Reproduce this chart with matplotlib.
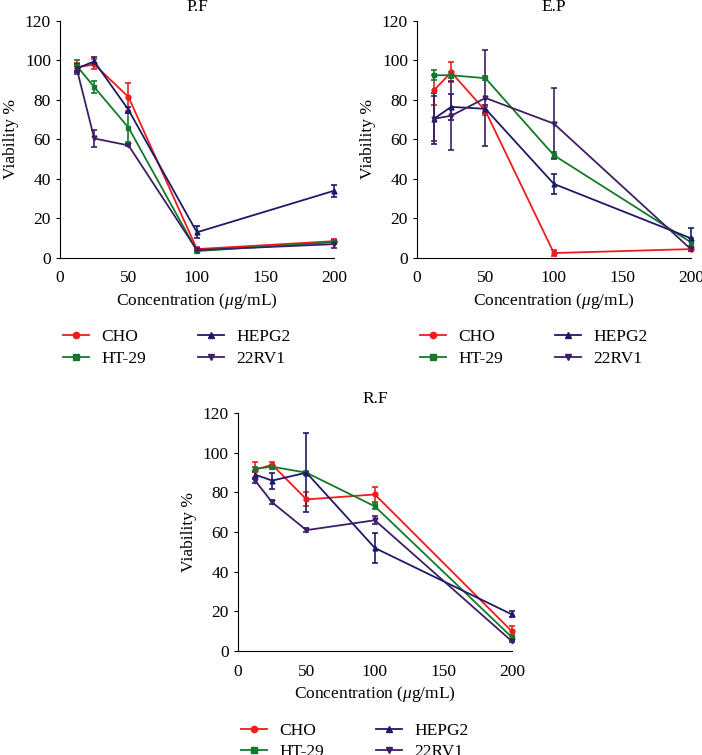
import matplotlib
matplotlib.use('Agg')
import matplotlib.pyplot as plt
from matplotlib.lines import Line2D

plt.rcParams['font.family'] = ['Liberation Serif', 'DejaVu Serif']
plt.rcParams['mathtext.fontset'] = 'custom'
plt.rcParams['mathtext.it'] = 'Liberation Serif:italic'
plt.rcParams['mathtext.rm'] = 'Liberation Serif'

# concentrations (ug/mL)
conc = [12.5, 25, 50, 100, 200]
cells = ['CHO', 'HT-29', 'HEPG2', '22RV1']
colors = ['#ee1c1c', '#137a2a', '#1c1a6a', '#3f1f63']
markers = ['o', 's', '^', 'v']

# P.F
pf_mean = {
    'CHO':   [96.5, 98, 81.5, 4.5, 8.5],
    'HT-29': [97, 86.5, 66, 3.5, 8],
    'HEPG2': [96, 99.5, 75, 13, 34],
    '22RV1': [95, 60.5, 57, 4, 7],
}
pf_err = {
    'CHO':   [2, 2.5, 7, 1, 1],
    'HT-29': [3, 3, 7.5, 1, 1],
    'HEPG2': [2, 2, 1.5, 3, 3],
    '22RV1': [2, 4.5, 0.5, 0.5, 2],
}
# E.P
ep_mean = {
    'CHO':   [85, 94, 74.5, 2.5, 4.5],
    'HT-29': [92.5, 92.5, 91, 52, 8],
    'HEPG2': [70.5, 76.5, 75.5, 37.5, 10],
    '22RV1': [70.5, 72, 81, 68, 4.5],
}
ep_err = {
    'CHO':   [7.5, 5, 2, 1.5, 1],
    'HT-29': [2.5, 1.5, 1, 1.5, 2],
    'HEPG2': [13, 6.5, 2, 5, 5],
    '22RV1': [11.5, 17.5, 24.5, 18, 1],
}
# R.F
rf_mean = {
    'CHO':   [91.5, 94, 76.5, 79, 10],
    'HT-29': [92, 93, 90, 73, 7],
    'HEPG2': [89, 86, 90, 52, 18.5],
    '22RV1': [86, 75, 61, 66, 5],
}
rf_err = {
    'CHO':   [4, 1.5, 3.5, 4, 2.5],
    'HT-29': [1, 1, 1, 1.5, 1],
    'HEPG2': [1.5, 4, 20, 7.5, 1.5],
    '22RV1': [1, 1, 1, 2, 0.5],
}

xticks = [0, 50, 100, 150, 200]
yticks = [0, 20, 40, 60, 80, 100, 120]
fs = 12.5


def draw_panel(ax, title, mean, err):
    handles = []
    for c, col, mk in zip(cells, colors, markers):
        ax.errorbar(conc, mean[c], yerr=err[c], color=col, marker=mk,
                    markersize=3.5, linewidth=1.3, elinewidth=1.2,
                    capsize=2.2, capthick=1.2, clip_on=False)
        handles.append(Line2D([], [], color=col, marker=mk, markersize=4.5,
                              linewidth=1.3, label=c))
    ax.set_xlim(0, 200)
    ax.set_ylim(0, 120)
    ax.set_xticks(xticks)
    ax.set_yticks(yticks)
    ax.spines['top'].set_visible(False)
    ax.spines['right'].set_visible(False)
    ax.tick_params(axis='x', length=0, labelsize=fs, pad=9)
    ax.tick_params(axis='y', length=3, labelsize=fs)
    ax.set_title(title, fontsize=fs, pad=7)
    ax.set_ylabel('Viability %', fontsize=fs, labelpad=4)
    ax.set_xlabel('Concentration ($\\mu$g/mL)', fontsize=fs, labelpad=3)
    ax.legend(handles=handles, loc='upper left', bbox_to_anchor=(-0.045, -0.235),
              ncol=2, frameon=False, fontsize=fs, handlelength=1.5,
              columnspacing=3.0, labelspacing=0.3, handletextpad=0.7)


fig = plt.figure(figsize=(7.02, 7.55), dpi=100)
ax1 = fig.add_axes([0.0855, 0.6583, 0.390, 0.314])
ax2 = fig.add_axes([0.594, 0.6583, 0.390, 0.314])
ax3 = fig.add_axes([0.339, 0.1377, 0.390, 0.315])

draw_panel(ax1, 'P.F', pf_mean, pf_err)
draw_panel(ax2, 'E.P', ep_mean, ep_err)
draw_panel(ax3, 'R.F', rf_mean, rf_err)

fig.savefig('out.png', dpi=100)
